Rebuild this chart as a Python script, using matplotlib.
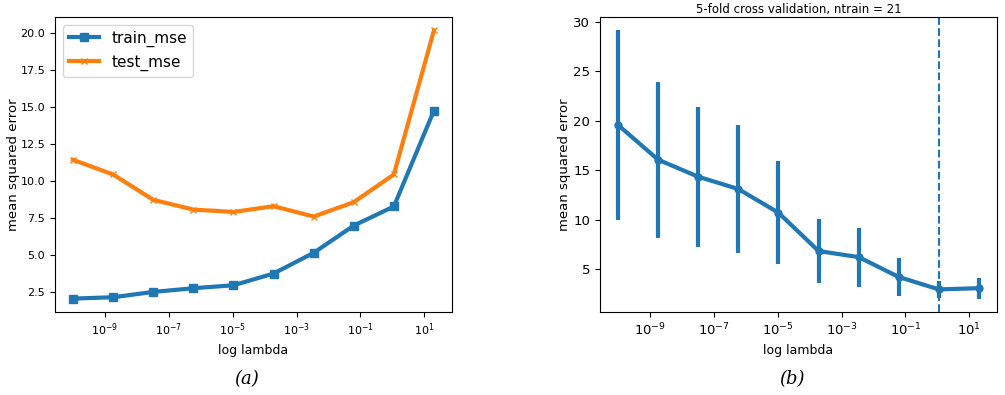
import numpy as np
import matplotlib
matplotlib.use("Agg")
import matplotlib.pyplot as plt

# lambda grid used for both panels
lambdas = np.logspace(-10, 1.3, 10)
x_ticks = [1e-9, 1e-7, 1e-5, 1e-3, 1e-1, 1e1]

# panel (a): train / test error
train_mse = [2.05, 2.14, 2.50, 2.75, 2.95, 3.74, 5.14, 6.98, 8.27, 14.75]
test_mse = [11.42, 10.43, 8.72, 8.06, 7.90, 8.29, 7.59, 8.56, 10.43, 20.16]

# panel (b): cross validation mean and error
cv_mean = [19.57, 16.07, 14.35, 13.11, 10.72, 6.85, 6.24, 4.23, 2.98, 3.10]
cv_err = [9.55, 7.88, 7.08, 6.48, 5.17, 3.20, 2.98, 1.90, 0.83, 1.05]
best_idx = 8

fig = plt.figure(figsize=(10.05, 3.95), dpi=100)

# left panel
ax1 = fig.add_axes([55/1005, 1 - 312/395, 397/1005, 295/395])
ax1.plot(lambdas, train_mse, color="C0", marker="s", lw=3, ms=5.5, label="train_mse")
ax1.plot(lambdas, test_mse, color="C1", marker="x", lw=3, ms=5, label="test_mse")
ax1.set_xscale("log")
ax1.set_xticks(x_ticks)
ax1.minorticks_off()
ax1.set_xlabel("log lambda", fontsize=9)
ax1.set_ylabel("mean squared error", fontsize=9.5)
ax1.yaxis.set_label_coords(-0.088, 0.5)
ax1.tick_params(labelsize=8)
ax1.legend(loc="upper left", fontsize=11)

# right panel
ax2 = fig.add_axes([600/1005, 1 - 312/395, 397/1005, 295/395])
ax2.errorbar(lambdas, cv_mean, yerr=cv_err, fmt="o-", color="C0", lw=3, elinewidth=3, ms=5)
ax2.axvline(lambdas[best_idx], color="C0", ls="--", lw=1.5)
ax2.set_xscale("log")
ax2.set_xticks(x_ticks)
ax2.minorticks_off()
ax2.set_yticks([5, 10, 15, 20, 25, 30])
ax2.set_xlabel("log lambda", fontsize=9)
ax2.set_ylabel("mean squared error", fontsize=9.5)
ax2.yaxis.set_label_coords(-0.073, 0.5)
ax2.set_title("5-fold cross validation, ntrain = 21", fontsize=8.5, pad=3)
ax2.tick_params(labelsize=9.5)

# captions under each panel
fig.text(247/1005, 1 - 379/395, "(a)", ha="center", va="center",
         fontsize=13, family="DejaVu Serif", style="italic")
fig.text(792/1005, 1 - 379/395, "(b)", ha="center", va="center",
         fontsize=13, family="DejaVu Serif", style="italic")

plt.savefig("out.png")
